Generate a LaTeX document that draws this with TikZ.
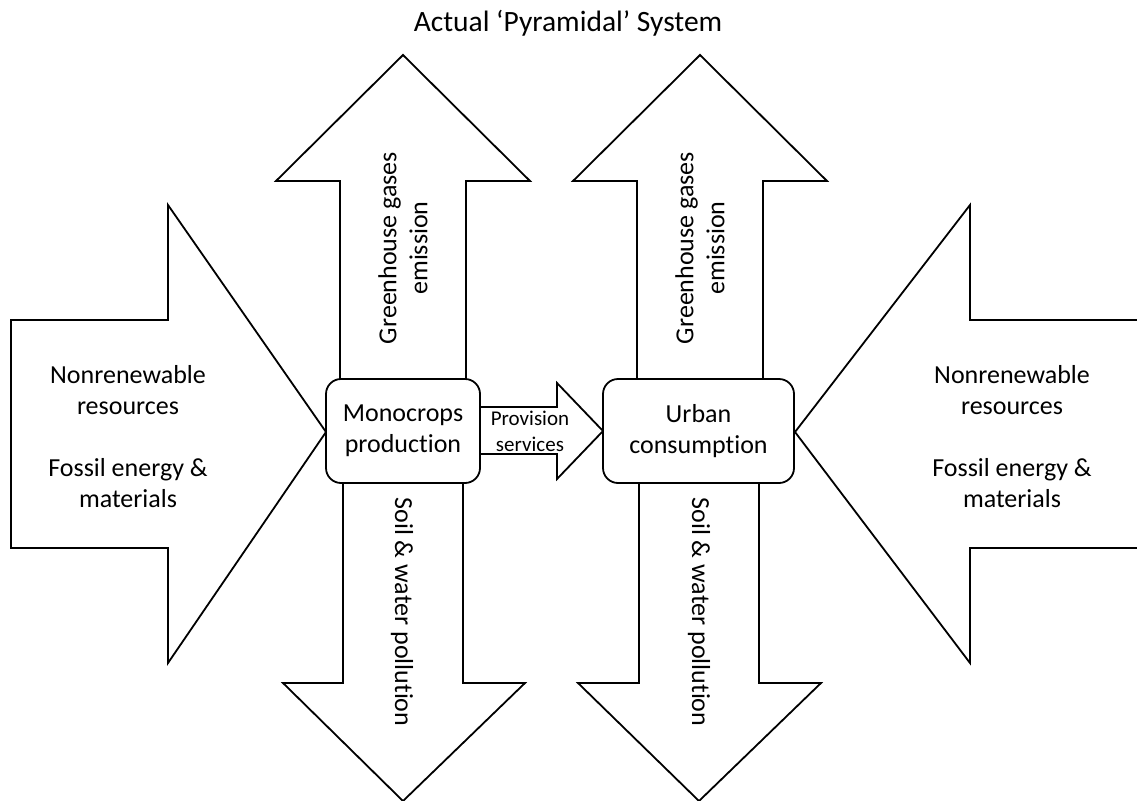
\documentclass[tikz,border=0pt]{standalone}
\usepackage{fontspec}
\setmainfont{Carlito}[Ligatures={NoCommon}]
\begin{document}
\begin{tikzpicture}[x=1pt,y=-1pt,
  bigarrow/.style={draw=black,fill=white,line width=1.8pt,line join=miter},
  procbox/.style={draw=black,fill=white,line width=1.8pt,rounded corners=15pt},
  lbl/.style={font=\fontsize{26}{31}\selectfont,align=center,inner sep=0pt},
  smalllbl/.style={font=\fontsize{21}{26}\selectfont,align=center,inner sep=0pt},
  titlelbl/.style={font=\fontsize{29.5}{34}\selectfont,inner sep=0pt}]
\useasboundingbox (0,0) rectangle (1137,800);
% title
\node[titlelbl] (title) at (568,23) {Actual ‘Pyramidal’ System};
% left big arrow
\draw[bigarrow] (11,320) -- (168,320) -- (168,205) -- (326,432) -- (168,663) -- (168,548) -- (11,548) -- cycle;
% right big arrow
\path[fill=white] (1137,320) -- (970,320) -- (970,205) -- (795,432) -- (970,663) -- (970,548) -- (1137,548) -- cycle;
\draw[bigarrow,fill=none] (1139,320) -- (970,320) -- (970,205) -- (795,432) -- (970,663) -- (970,548) -- (1139,548);
% up arrows
\draw[bigarrow] (340,380) -- (340,181) -- (276,181) -- (403,55) -- (530,181) -- (466,181) -- (466,380);
\draw[bigarrow] (637,380) -- (637,181) -- (573,181) -- (700,55) -- (827,181) -- (763,181) -- (763,380);
% down arrows
\draw[bigarrow] (343,482) -- (343,683) -- (283,683) -- (403,801) -- (525,683) -- (463,683) -- (463,482);
\draw[bigarrow] (639,482) -- (639,683) -- (578,683) -- (699,801) -- (821,683) -- (759,683) -- (759,482);
% small arrow
\draw[bigarrow] (478,407) -- (557,407) -- (557,383) -- (603,431) -- (557,479) -- (557,454) -- (478,454);
% boxes
\node[procbox,minimum width=154pt,minimum height=104pt,lbl] (mono) at (403,431) {Monocrops\\production};
\node[procbox,minimum width=191pt,minimum height=104pt,lbl] (urban) at (698.5,431) {Urban\\consumption};
% labels
\node[smalllbl] (prov) at (530,431) {Provision\\services};
\node[lbl] (nrl) at (128,437) {Nonrenewable\\resources\\[31pt]Fossil energy \&\\materials};
\node[lbl] (nrr) at (1012,437) {Nonrenewable\\resources\\[31pt]Fossil energy \&\\materials};
\node[lbl,rotate=90] (ghg1) at (403,248) {Greenhouse gases\\emission};
\node[lbl,rotate=90] (ghg2) at (700,248) {Greenhouse gases\\emission};
\node[lbl,rotate=-90] (soil1) at (402,612) {Soil \& water pollution};
\node[lbl,rotate=-90] (soil2) at (699,612) {Soil \& water pollution};
\end{tikzpicture}
\end{document}
